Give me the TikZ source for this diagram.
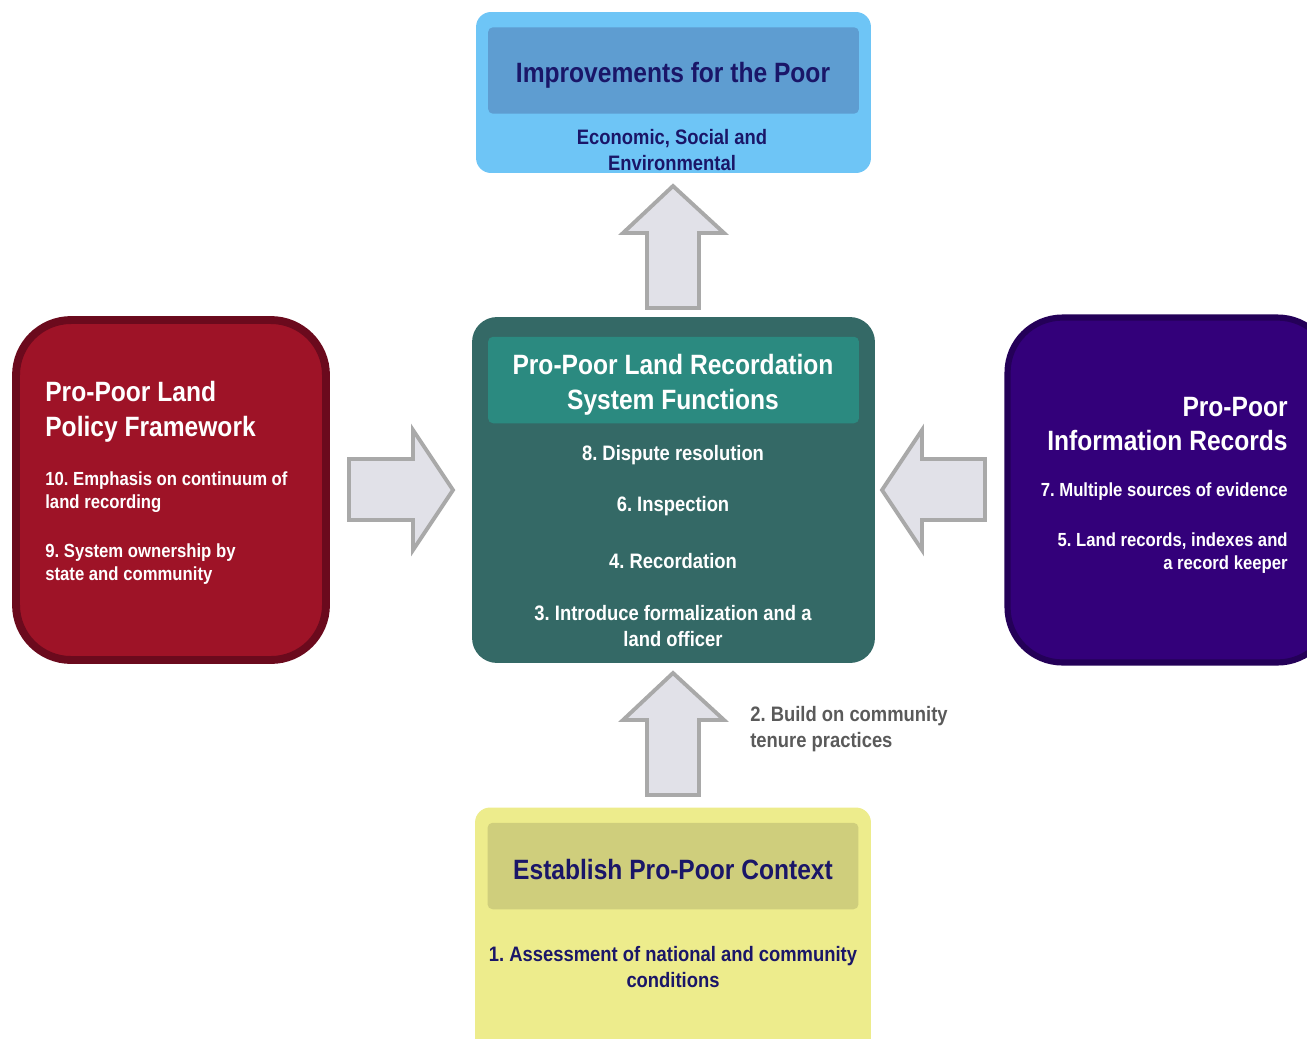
\documentclass[tikz,border=0pt]{standalone}
\usepackage{fontspec}
\setmainfont[FakeStretch=0.88]{Liberation Sans}
\frenchspacing

\definecolor{skyfill}{HTML}{6EC5F6}
\definecolor{skyhead}{HTML}{5E9DD1}
\definecolor{navytext}{HTML}{1A1668}
\definecolor{tealfill}{HTML}{346966}
\definecolor{tealhead}{HTML}{2B8A80}
\definecolor{redfill}{HTML}{9E1327}
\definecolor{redline}{HTML}{6B0A1D}
\definecolor{violetfill}{HTML}{33007A}
\definecolor{violetline}{HTML}{240058}
\definecolor{yellowfill}{HTML}{EDEC8C}
\definecolor{yellowhead}{HTML}{CFCE7C}
\definecolor{arrowfill}{HTML}{E1E1E8}
\definecolor{arrowline}{HTML}{A9A9A9}
\definecolor{notegray}{HTML}{5A5A5A}

\newcommand{\titlesize}{\fontsize{15.9}{19.8}\selectfont\bfseries\frenchspacing}
\newcommand{\itemsize}{\fontsize{11.9}{14.5}\selectfont\bfseries\frenchspacing}
\newcommand{\sidesize}{\fontsize{10.8}{13}\selectfont\bfseries\frenchspacing}

\tikzset{
	outerbox/.style={inner sep=0pt},
	headbox/.style={inner sep=0pt, rounded corners=0.1cm, minimum width=7.42cm, minimum height=1.73cm},
	headtext/.style={inner sep=0pt, align=center, font=\titlesize},
	itemtext/.style={inner sep=0pt, align=center, font=\itemsize},
	sidetitle/.style={inner sep=0pt, text=white, font=\titlesize},
	sidetext/.style={inner sep=0pt, text=white, font=\sidesize},
	blockarrow/.style={fill=arrowfill, draw=arrowline, line width=2.2pt, line join=miter}
}

\begin{document}
\begin{tikzpicture}[x=0.02cm, y=-0.02cm]

	\clip (0,0) rectangle (1307,1038);

	% top: improvements
	\node[outerbox, fill=skyfill, rounded corners=0.3cm, minimum width=7.9cm, minimum height=3.22cm] (improve) at (673.5,92.5) {};
	\node[headbox, fill=skyhead] (improvehead) at (673.5,70.5) {};
	\node[headtext, text=navytext] (improvetitle) at (673,75) {Improvements for the Poor};
	\node[itemtext, text=navytext] (improvetext) at (672,150) {Economic, Social and\\Environmental};

	% centre: recordation system
	\node[outerbox, fill=tealfill, rounded corners=0.5cm, minimum width=8.06cm, minimum height=6.92cm] (recsys) at (673.5,490) {};
	\node[headbox, fill=tealhead] (recsyshead) at (673.5,380) {};
	\node[headtext, text=white] (recsystitle) at (673,385) {Pro-Poor Land Recordation\\System Functions};
	\node[itemtext, text=white] (dispute) at (673,455) {8. Dispute resolution};
	\node[itemtext, text=white] (inspect) at (673,506) {6. Inspection};
	\node[itemtext, text=white] (record) at (673,561) {4. Recordation};
	\node[itemtext, text=white] (formal) at (673,626) {3. Introduce formalization and a\\land officer};

	% left: policy framework
	\node[outerbox, fill=redfill, draw=redline, line width=4.5pt, rounded corners=1.1cm, minimum width=6.2cm, minimum height=6.8cm] (policy) at (171,490) {};
	\node[sidetitle, anchor=west, align=left] (policytitle) at (45,412) {Pro-Poor Land\\Policy Framework};
	\node[sidetext, anchor=west, align=left] (continuum) at (45,492) {10. Emphasis on continuum of\\land recording};
	\node[sidetext, anchor=west, align=left] (ownership) at (45,564) {9. System ownership by\\state and community};

	% right: information records
	\node[outerbox, fill=violetfill, draw=violetline, line width=3.5pt, rounded corners=1.1cm, minimum width=6.5cm, minimum height=6.9cm] (inforec) at (1170,490) {};
	\node[sidetitle, anchor=east, align=right] (inforectitle) at (1288,424) {Pro-Poor\\Information Records};
	\node[sidetext, anchor=east, align=right] (evidence) at (1288,492) {7. Multiple sources of evidence};
	\node[sidetext, anchor=east, align=right] (keeper) at (1288,553) {5. Land records, indexes and\\a record keeper};

	% bottom: context
	\node[outerbox, fill=yellowfill, rounded corners=0.3cm, minimum width=7.92cm, minimum height=4.9cm] (context) at (673,930) {};
	\node[headbox, fill=yellowhead] (contexthead) at (673,866) {};
	\node[headtext, text=navytext] (contexttitle) at (673,869) {Establish Pro-Poor Context};
	\node[itemtext, text=navytext] (assess) at (673,967) {1. Assessment of national and community\\conditions};

	% block arrows
	\draw[blockarrow] (647,308) -- (647,233) -- (623,233) -- (673,186) -- (724,233) -- (699,233) -- (699,308) -- cycle;
	\draw[blockarrow] (647,795) -- (647,720) -- (623,720) -- (673,673) -- (724,720) -- (699,720) -- (699,795) -- cycle;
	\draw[blockarrow] (349,459) -- (413,459) -- (413,430) -- (453,490) -- (413,550) -- (413,520) -- (349,520) -- cycle;
	\draw[blockarrow] (985,459) -- (922,459) -- (922,430) -- (882,490) -- (922,550) -- (922,520) -- (985,520) -- cycle;

	\node[itemtext, text=notegray, anchor=west, align=left] (tenure) at (750,729) {2. Build on community\\tenure practices};

\end{tikzpicture}
\end{document}
